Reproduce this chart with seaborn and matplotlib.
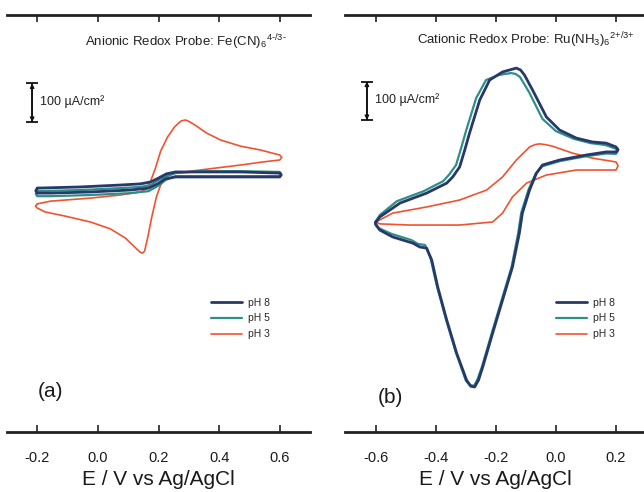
import numpy as np
import pandas as pd
import matplotlib
matplotlib.use("Agg")
import matplotlib.pyplot as plt
import seaborn as sns

# ---- cyclic voltammograms: potential (V vs Ag/AgCl) and current density (uA/cm^2) ----
# (a) Fe(CN)6 4-/3-: forward scan followed by reverse scan, one loop per pH
a_ph8_E = [-0.20, -0.058, 0.074, 0.140, 0.174, 0.200, 0.226, 0.256, 0.339, 0.471, 0.60,
           0.605, 0.60, 0.471, 0.339, 0.256, 0.223, 0.197, 0.167, 0.107, -0.025, -0.157,
           -0.20, -0.205, -0.20]
a_ph8_j = [5, 8, 13, 16, 21, 31, 42, 47, 47, 47, 44,
           39, 34, 34, 34, 34, 29, 16, 5, 0, -5, -8,
           -8, -2, 5]

a_ph5_E = [-0.20, -0.058, 0.074, 0.140, 0.174, 0.200, 0.226, 0.256, 0.339, 0.471, 0.60,
           0.605, 0.60, 0.471, 0.339, 0.256, 0.223, 0.197, 0.167, 0.107, -0.025, -0.157,
           -0.20, -0.205, -0.20]
a_ph5_j = [-3, 0, 5, 8, 13, 26, 36, 44, 49, 49, 47,
           42, 36, 36, 36, 36, 26, 10, -3, -8, -13, -16,
           -16, -10, -3]

a_ph3_E = [-0.20, -0.157, -0.025, 0.074, 0.140, 0.160, 0.174, 0.190, 0.207, 0.230, 0.253,
           0.266, 0.276, 0.289, 0.299, 0.312, 0.326, 0.359, 0.405, 0.471, 0.537, 0.60,
           0.607, 0.60, 0.544, 0.471, 0.388, 0.306, 0.256, 0.230, 0.207, 0.193, 0.177,
           0.164, 0.154, 0.147, 0.140, 0.121, 0.091, 0.041, -0.025, -0.107, -0.174,
           -0.20, -0.206, -0.20]
a_ph3_j = [-36, -29, -21, -13, -5, 3, 23, 57, 101, 138, 164,
           174, 180, 182, 179, 173, 166, 148, 130, 114, 104, 91,
           85, 78, 73, 65, 57, 49, 44, 36, 13, -18, -73,
           -125, -159, -164, -162, -148, -125, -101, -83, -68, -57,
           -47, -42, -36]

# (b) Ru(NH3)6 2+/3+
b_ph8_E = [-0.60, -0.587, -0.520, -0.431, -0.364, -0.344, -0.321, -0.304, -0.288, -0.254,
           -0.221, -0.178, -0.155, -0.132, -0.118, -0.105, -0.078, -0.032, 0.012, 0.068,
           0.121, 0.167, 0.20, 0.207, 0.20, 0.167, 0.101, 0.012, -0.045, -0.065, -0.088,
           -0.112, -0.122, -0.145, -0.178, -0.211, -0.244, -0.258, -0.271, -0.284, -0.298,
           -0.331, -0.364, -0.394, -0.414, -0.431, -0.454, -0.477, -0.544, -0.587,
           -0.60, -0.602, -0.60]
b_ph8_j = [8, 21, 57, 83, 109, 125, 151, 195, 239, 325,
           377, 398, 403, 408, 403, 390, 351, 281, 247, 226,
           216, 213, 203, 196, 190, 190, 182, 169, 156, 135, 91,
           31, -21, -109, -195, -281, -369, -403, -421, -419, -403,
           -333, -247, -161, -91, -60, -57, -47, -31, -13,
           0, 4, 8]

b_ph5_E = [-0.60, -0.587, -0.530, -0.441, -0.376, -0.356, -0.333, -0.316, -0.300, -0.266,
           -0.233, -0.190, -0.168, -0.150, -0.135, -0.120, -0.090, -0.045, 0.000, 0.060,
           0.115, 0.165, 0.20, 0.206, 0.20, 0.167, 0.101, 0.012, -0.045, -0.068, -0.092,
           -0.116, -0.126, -0.148, -0.181, -0.214, -0.247, -0.261, -0.273, -0.287, -0.300,
           -0.334, -0.367, -0.397, -0.418, -0.436, -0.460, -0.482, -0.548, -0.590,
           -0.60, -0.603, -0.60]
b_ph5_j = [10, 26, 62, 88, 114, 131, 156, 200, 244, 330,
           377, 390, 393, 395, 393, 385, 346, 276, 244, 224,
           213, 208, 198, 192, 185, 186, 179, 166, 153, 133, 91,
           31, -21, -109, -195, -281, -369, -400, -418, -416, -405,
           -330, -244, -158, -86, -52, -49, -39, -23, -8,
           3, 6, 10]

b_ph3_E = [-0.60, -0.544, -0.431, -0.321, -0.231, -0.178, -0.132, -0.088, -0.070, -0.055,
           -0.035, -0.012, 0.055, 0.121, 0.20, 0.207, 0.20, 0.068, -0.032, -0.098, -0.145,
           -0.178, -0.211, -0.321, -0.487, -0.587, -0.60]
b_ph3_j = [8, 31, 47, 65, 91, 125, 169, 203, 209, 211,
           209, 205, 187, 174, 164, 154, 143, 143, 130, 109, 73,
           31, 8, 0, 0, 3, 8]

ph_labels = ["pH 8", "pH 5", "pH 3"]
ph_colors = {"pH 8": "#27386b", "pH 5": "#2e8f87", "pH 3": "#f0532f"}
ph_widths = {"pH 8": 2.0, "pH 5": 1.6, "pH 3": 1.2}

titles = [r"Anionic Redox Probe: Fe(CN)$_6$$^{4\text{-}/3\text{-}}$",
          r"Cationic Redox Probe: Ru(NH$_3$)$_6$$^{2\text{+}/3\text{+}}$"]
panel_tags = ["(a)", "(b)"]
xticks_a = [-0.2, 0.0, 0.2, 0.4, 0.6]
xticks_b = [-0.6, -0.4, -0.2, 0.0, 0.2]
scale_bar_uA = 100


def loop_frame(series):
    frames = []
    for label, (E, j) in series.items():
        frames.append(pd.DataFrame({"E": E, "j": j, "pH": label,
                                    "step": np.arange(len(E))}))
    return pd.concat(frames, ignore_index=True)


df_a = loop_frame({"pH 8": (a_ph8_E, a_ph8_j), "pH 5": (a_ph5_E, a_ph5_j),
                   "pH 3": (a_ph3_E, a_ph3_j)})
df_b = loop_frame({"pH 8": (b_ph8_E, b_ph8_j), "pH 5": (b_ph5_E, b_ph5_j),
                   "pH 3": (b_ph3_E, b_ph3_j)})

sns.set_theme(style="white")
plt.rcParams["font.family"] = ["Liberation Sans", "DejaVu Sans"]
plt.rcParams["mathtext.fontset"] = "custom"
plt.rcParams["mathtext.rm"] = "Liberation Sans"
plt.rcParams["mathtext.it"] = "Liberation Sans"
plt.rcParams["axes.unicode_minus"] = False

fig = plt.figure(figsize=(6.44, 4.92), dpi=100)
W, H = 644, 492
ax_a = fig.add_axes([7 / W, 60 / H, 303 / W, 417 / H])
ax_b = fig.add_axes([345 / W, 60 / H, 301 / W, 417 / H])

panels = [
    dict(ax=ax_a, df=df_a, xlim=(-0.30, 0.70), ylim=(-629, 455), ticks=xticks_a,
         bar_x=-0.217, bar_y0=177, text_x=-0.19, text_y=231,
         title_x=0.924, title_y=0.935, tag_xy=(0.145, 0.096), leg=(0.672, 0.322)),
    dict(ax=ax_b, df=df_b, xlim=(-0.703, 0.30), ylim=(-538, 546), ticks=xticks_b,
         bar_x=-0.630, bar_y0=273, text_x=-0.603, text_y=325,
         title_x=0.963, title_y=0.94, tag_xy=(0.15, 0.082), leg=(0.70, 0.322)),
]

for i, p in enumerate(panels):
    ax = p["ax"]
    for label in ["pH 3", "pH 5", "pH 8"]:
        sub = p["df"][p["df"]["pH"] == label]
        sns.lineplot(data=sub, x="E", y="j", sort=False, estimator=None,
                     color=ph_colors[label], lw=ph_widths[label], ax=ax, label=label,
                     solid_joinstyle="round")
    ax.set_xlim(*p["xlim"])
    ax.set_ylim(*p["ylim"])
    ax.set_xticks(p["ticks"])
    ax.set_xticklabels([f"{t:.1f}" for t in p["ticks"]])
    ax.set_yticks([])
    ax.set_ylabel("")
    ax.set_xlabel("E / V vs Ag/AgCl", fontsize=15, labelpad=3, color="#1a1a1a")
    for side in ["left", "right"]:
        ax.spines[side].set_visible(False)
    for side in ["top", "bottom"]:
        ax.spines[side].set_visible(True)
        ax.spines[side].set_linewidth(2.0)
        ax.spines[side].set_color("#222222")
    ax.tick_params(axis="x", which="both", direction="in", top=True, bottom=True,
                   length=5, width=1.2, color="#222222", labelsize=10.5, pad=14,
                   labelcolor="#1a1a1a")
    ax.set_facecolor("white")

    # 100 uA/cm^2 scale bar
    y0, y1 = p["bar_y0"], p["bar_y0"] + scale_bar_uA
    ax.errorbar([p["bar_x"]], [(y0 + y1) / 2], yerr=scale_bar_uA / 2, color="#111111",
                capsize=4, capthick=1.3, elinewidth=1.3)
    ax.annotate("", xy=(p["bar_x"], y1), xytext=(p["bar_x"], y0),
                arrowprops=dict(arrowstyle="<|-|>", color="#111111", lw=1.0,
                                mutation_scale=6, shrinkA=0, shrinkB=0))
    ax.text(p["text_x"], p["text_y"], "100 µA/cm²", fontsize=9,
            ha="left", va="center", color="#222222")

    ax.text(p["title_x"], p["title_y"], titles[i], transform=ax.transAxes,
            ha="right", va="center", fontsize=9.5, color="#222222")
    ax.text(p["tag_xy"][0], p["tag_xy"][1], panel_tags[i], transform=ax.transAxes,
            ha="center", va="center", fontsize=15, color="#1a1a1a")

    handles, labels = ax.get_legend_handles_labels()
    order = [labels.index(l) for l in ph_labels]
    ax.legend([handles[k] for k in order], [labels[k] for k in order],
              loc="upper left", bbox_to_anchor=p["leg"], frameon=False,
              fontsize=7.5, handlelength=3.0, handletextpad=0.6, labelspacing=0.55,
              borderpad=0, borderaxespad=0)

fig.savefig("out.png", dpi=100, facecolor="white")
